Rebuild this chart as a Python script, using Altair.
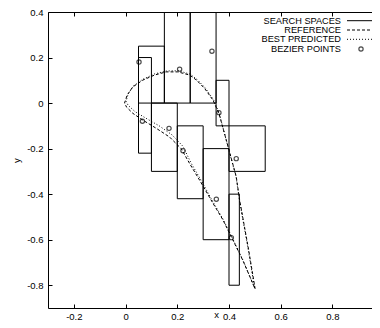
import altair as alt
import pandas as pd

# ---- data ----
rect_x1 = [0.05, 0.05, 0.10, 0.15, 0.25, 0.35, 0.40, 0.20, 0.30, 0.40]
rect_x2 = [0.10, 0.15, 0.20, 0.25, 0.35, 0.40, 0.54, 0.30, 0.40, 0.44]
rect_y1 = [-0.22, 0.00, -0.30, 0.00, 0.00, -0.10, -0.30, -0.42, -0.60, -0.80]
rect_y2 = [0.20, 0.25, 0.00, 0.50, 0.50, 0.10, -0.10, -0.10, -0.20, -0.40]

ref_x = [0.501, 0.476, 0.441, 0.428, 0.400, 0.361, 0.338, 0.306, 0.274, 0.248,
         0.202, 0.157, 0.112, 0.067, 0.028, 0.006, -0.004, 0.004, 0.028, 0.067,
         0.119, 0.170, 0.215, 0.250, 0.286, 0.338, 0.375, 0.411, 0.454, 0.501]
ref_y = [-0.816, -0.645, -0.425, -0.323, -0.206, -0.045, 0.013, 0.064, 0.101, 0.123,
         0.137, 0.137, 0.123, 0.101, 0.071, 0.035, 0.000, -0.018, -0.045, -0.075,
         -0.111, -0.149, -0.200, -0.270, -0.338, -0.440, -0.510, -0.592, -0.692, -0.816]

pred_x = [0.499, 0.474, 0.440, 0.427, 0.399, 0.362, 0.340, 0.308, 0.276, 0.250,
          0.204, 0.158, 0.112, 0.066, 0.030, 0.010, 0.002, 0.010, 0.037, 0.078,
          0.130, 0.180, 0.222, 0.254, 0.290, 0.340, 0.376, 0.412, 0.454, 0.499]
pred_y = [-0.812, -0.642, -0.424, -0.322, -0.205, -0.044, 0.015, 0.067, 0.104, 0.127,
          0.142, 0.141, 0.128, 0.104, 0.075, 0.040, 0.008, -0.010, -0.038, -0.066,
          -0.100, -0.140, -0.190, -0.265, -0.335, -0.438, -0.508, -0.590, -0.690, -0.812]

bez_x = [0.052, 0.065, 0.168, 0.209, 0.222, 0.334, 0.361, 0.428, 0.351, 0.409]
bez_y = [0.180, -0.080, -0.111, 0.149, -0.209, 0.228, -0.042, -0.244, -0.422, -0.591]

legend_labels = ["SEARCH SPACES", "REFERENCE", "BEST PREDICTED", "BEZIER POINTS"]

x_ticks = [-0.2, 0, 0.2, 0.4, 0.6, 0.8]
y_ticks = [-0.8, -0.6, -0.4, -0.2, 0, 0.2, 0.4]

# ---- tables ----
rect_df = pd.DataFrame({"x1": rect_x1, "x2": rect_x2, "y1": rect_y1, "y2": rect_y2})
ref_df = pd.DataFrame({"x": ref_x, "y": ref_y, "i": list(range(len(ref_x)))})
pred_df = pd.DataFrame({"x": pred_x, "y": pred_y, "i": list(range(len(pred_x)))})
bez_df = pd.DataFrame({"x": bez_x, "y": bez_y})

W, H = 324, 296
FONT = "Liberation Sans"
FS = 9.5
xs = alt.Scale(domain=[-0.3, 0.953], nice=False, zero=False)
ys = alt.Scale(domain=[-0.9, 0.4], nice=False, zero=False)
lab = "datum.value == 0 ? '0' : (datum.value < 0 ? '-' : '') + format(abs(datum.value), '.1f')"

rects = alt.Chart(rect_df).mark_rect(
    fillOpacity=0, stroke="black", strokeWidth=1, clip=True
).encode(
    x=alt.X("x1:Q", scale=xs, axis=alt.Axis(
        orient="bottom", values=x_ticks, labelExpr=lab, ticks=False, tickSize=0,
        labelPadding=3, domain=True, title="x", titleX=168, titleY=9.5,
        titleBaseline="alphabetic", titleAlign="center",
        titleFontWeight="normal")),
    x2="x2:Q",
    y=alt.Y("y1:Q", scale=ys, axis=alt.Axis(
        orient="left", values=y_ticks, labelExpr=lab, ticks=False, tickSize=0,
        labelPadding=5, domain=True, title="y", titleX=-32, titleY=H / 2,
        titleAngle=270, titleBaseline="middle", titleAlign="center",
        titleFontWeight="normal")),
    y2="y2:Q",
)

ref_line = alt.Chart(ref_df).mark_line(
    color="black", strokeWidth=1, strokeDash=[3, 2]
).encode(
    x=alt.X("x:Q", scale=xs, axis=alt.Axis(
        orient="top", offset=-H, values=x_ticks, labels=False, domain=False,
        ticks=True, tickSize=4, title=None)),
    y=alt.Y("y:Q", scale=ys, axis=alt.Axis(
        orient="right", offset=-W, values=y_ticks, labels=False, domain=False,
        ticks=True, tickSize=4, title=None)),
    order="i:Q",
)

pred_line = alt.Chart(pred_df).mark_line(
    color="black", strokeWidth=1, strokeDash=[1, 2]
).encode(
    x=alt.X("x:Q", scale=xs, axis=alt.Axis(
        orient="bottom", offset=-H, values=x_ticks, labels=False, domain=True,
        ticks=True, tickSize=4, title=None)),
    y=alt.Y("y:Q", scale=ys, axis=None),
    order="i:Q",
)

pts = alt.Chart(bez_df).mark_point(
    shape="circle", size=18, filled=False, color="black", strokeWidth=1.2
).encode(
    x=alt.X("x:Q", scale=xs, axis=None),
    y=alt.Y("y:Q", scale=ys, axis=None),
)

# ---- legend (gnuplot style key) ----
rows_y = [8.7, 18, 27.3, 37]
dashes = [[1, 0], [3, 2], [1, 2]]
legend_layers = []
for k, label in enumerate(legend_labels):
    d = pd.DataFrame({"label": [label]})
    legend_layers.append(
        alt.Chart(d).mark_text(align="right", baseline="middle", font=FONT,
                               fontSize=9.2, color="black").encode(
            text="label:N", x=alt.value(293), y=alt.value(rows_y[k]))
    )
    if k < 3:
        legend_layers.append(
            alt.Chart(d).mark_rule(color="black", strokeWidth=1,
                                   strokeDash=dashes[k]).encode(
                x=alt.value(299), x2=alt.value(324), y=alt.value(rows_y[k]))
        )
    else:
        legend_layers.append(
            alt.Chart(d).mark_point(shape="circle", size=18, filled=False,
                                    color="black", strokeWidth=1.2).encode(
                x=alt.value(313), y=alt.value(rows_y[k]))
        )

chart = alt.layer(rects, ref_line, pred_line, pts, *legend_layers).resolve_axis(
    x="independent", y="independent"
).properties(
    width=W, height=H, autosize="none",
    padding={"left": 40, "top": 4, "right": 0, "bottom": 12},
).configure_view(strokeWidth=0).configure_axis(
    labelFont=FONT, titleFont=FONT, labelFontSize=FS, titleFontSize=FS,
    labelColor="black", titleColor="black", domainColor="black",
    tickColor="black", grid=False, domainWidth=1, tickWidth=1,
)

chart.save("out.html", embed_options={"renderer": "svg", "actions": False})
